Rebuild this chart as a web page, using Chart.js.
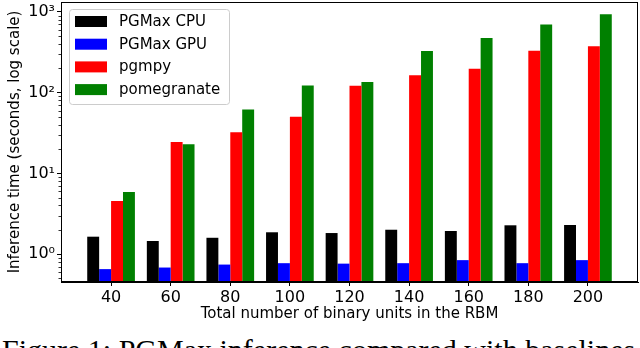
<!DOCTYPE html>
<html>
<head>
<meta charset="utf-8">
<script src="https://cdn.jsdelivr.net/npm/chart.js@4"></script>
<style>
  html, body { margin: 0; padding: 0; background: #fff; }
  body { width: 640px; height: 348px; overflow: hidden; position: relative; }
  #wrap { position: absolute; left: 0; top: 0; width: 640px; height: 325px; }
  #caption {
    position: absolute; left: 2px; top: 335px; white-space: nowrap;
    font-family: "Liberation Serif", serif; font-size: 30px; line-height: 30px; color: #000;
  }
</style>
</head>
<body>
<div id="wrap"><canvas id="myChart"></canvas></div>
<div id="caption">Figure 1: PGMax inference compared with baselines on the RBM model</div>
<script>
// binary units in the RBM
var units = [40, 60, 80, 100, 120, 140, 160, 180, 200];
// inference time, seconds
var pgmaxCpu = [1.64, 1.45, 1.59, 1.86, 1.82, 2.0, 1.93, 2.27, 2.29];
var pgmaxGpu = [0.65, 0.68, 0.74, 0.77, 0.76, 0.77, 0.84, 0.77, 0.84];
var pgmpy = [4.54, 24.4, 32.2, 50.3, 122, 164, 198, 331, 375];
var pomegranate = [5.87, 22.9, 62, 123, 136, 328, 475, 702, 935];
var yTicks = [1, 10, 100, 1000];
var yTickLabels = ['10\u2070', '10\u00b9', '10\u00b2', '10\u00b3'];

var FONT = 'DejaVu Sans';

function pts(vals) {
    return units.map((u, i) => ({x: u, y: vals[i]}));
}

// no extra room for the end tick labels, the plot box is placed by hand
function noPad(s) {
    s.paddingTop = 0;
    s.paddingBottom = 0;
    s.paddingLeft = 0;
    s.paddingRight = 0;
}

// top/right spines + minor log ticks
const frame = {
    id: 'frame',
    afterDraw(chart) {
        const ctx = chart.ctx;
        const a = chart.chartArea;
        const y = chart.scales.y;
        ctx.save();
        ctx.strokeStyle = '#000';
        ctx.lineWidth = 1;
        ctx.strokeRect(Math.round(a.left) + 0.5, Math.round(a.top) + 0.5,
            Math.round(a.right - a.left) - 1, Math.round(a.bottom - a.top) - 1);
        ctx.beginPath();
        for (let d = -1; d <= 3; d++) {
            for (let k = 2; k <= 9; k++) {
                const v = k * Math.pow(10, d);
                if (v < y.min || v > y.max) continue;
                const py = Math.round(y.getPixelForValue(v)) + 0.5;
                ctx.moveTo(a.left - 2.5, py);
                ctx.lineTo(a.left, py);
            }
        }
        ctx.lineWidth = 0.8;
        ctx.stroke();
        ctx.restore();
    }
};

// legend in the upper left of the plot
const boxLegend = {
    id: 'boxLegend',
    afterDraw(chart) {
        const ctx = chart.ctx;
        ctx.save();
        ctx.fillStyle = 'rgba(255,255,255,0.8)';
        ctx.strokeStyle = '#cccccc';
        ctx.lineWidth = 1;
        ctx.beginPath();
        ctx.roundRect(69.5, 9.5, 160, 95, 3);
        ctx.fill();
        ctx.stroke();
        ctx.font = '15px "' + FONT + '"';
        ctx.textBaseline = 'middle';
        chart.data.datasets.forEach((ds, i) => {
            const cy = 21.5 + i * 22.7;
            ctx.fillStyle = ds.backgroundColor;
            ctx.fillRect(75, cy - 5.5, 32, 11);
            ctx.fillStyle = '#000';
            ctx.fillText(ds.label, 119, cy + 0.5);
        });
        ctx.restore();
    }
};

let chart = document.getElementById('myChart').getContext('2d');

let timeChart = new Chart(chart, {
    type: 'bar',
    data: {
        datasets: [
            {label: 'PGMax CPU', data: pts(pgmaxCpu), backgroundColor: '#000000'},
            {label: 'PGMax GPU', data: pts(pgmaxGpu), backgroundColor: '#0000ff'},
            {label: 'pgmpy', data: pts(pgmpy), backgroundColor: '#ff0000'},
            {label: 'pomegranate', data: pts(pomegranate), backgroundColor: '#008000'}
        ]
    },
    options: {
        responsive: true,
        maintainAspectRatio: false,
        animation: false,
        categoryPercentage: 0.8,
        barPercentage: 1.0,
        layout: {padding: {top: 2, right: 2, left: 0, bottom: 0}},
        plugins: {
            legend: {display: false},
            tooltip: {enabled: false}
        },
        scales: {
            x: {
                type: 'linear',
                min: 23.2,
                max: 216.8,
                offset: false,
                afterBuildTicks: s => { s.ticks = units.map(v => ({value: v})); },
                afterFit: s => { s.height = 43; noPad(s); },
                grid: {offset: false, drawOnChartArea: false, tickLength: 4, color: '#000'},
                border: {color: '#000', width: 1},
                ticks: {
                    autoSkip: false, maxRotation: 0, padding: 2, color: '#000',
                    font: {family: FONT, size: 16},
                    callback: v => String(v)
                },
                title: {
                    display: true, text: 'Total number of binary units in the RBM',
                    color: '#000', font: {family: FONT, size: 15}, padding: {top: 0, bottom: 2}
                }
            },
            y: {
                type: 'logarithmic',
                min: 0.45,
                max: 1330,
                afterBuildTicks: s => { s.ticks = yTicks.map(v => ({value: v})); },
                afterFit: s => { s.width = 61; noPad(s); },
                grid: {drawOnChartArea: false, tickLength: 4, color: '#000'},
                border: {color: '#000', width: 1},
                ticks: {
                    padding: 2, color: '#000',
                    font: {family: FONT, size: 16},
                    callback: v => {
                        const i = yTicks.indexOf(v);
                        return i >= 0 ? yTickLabels[i] : '';
                    }
                },
                title: {
                    display: true, text: 'Inference time (seconds, log scale)',
                    color: '#000', font: {family: FONT, size: 15}, padding: {top: 6, bottom: 0}
                }
            }
        }
    },
    plugins: [frame, boxLegend]
});
</script>
</body>
</html>
